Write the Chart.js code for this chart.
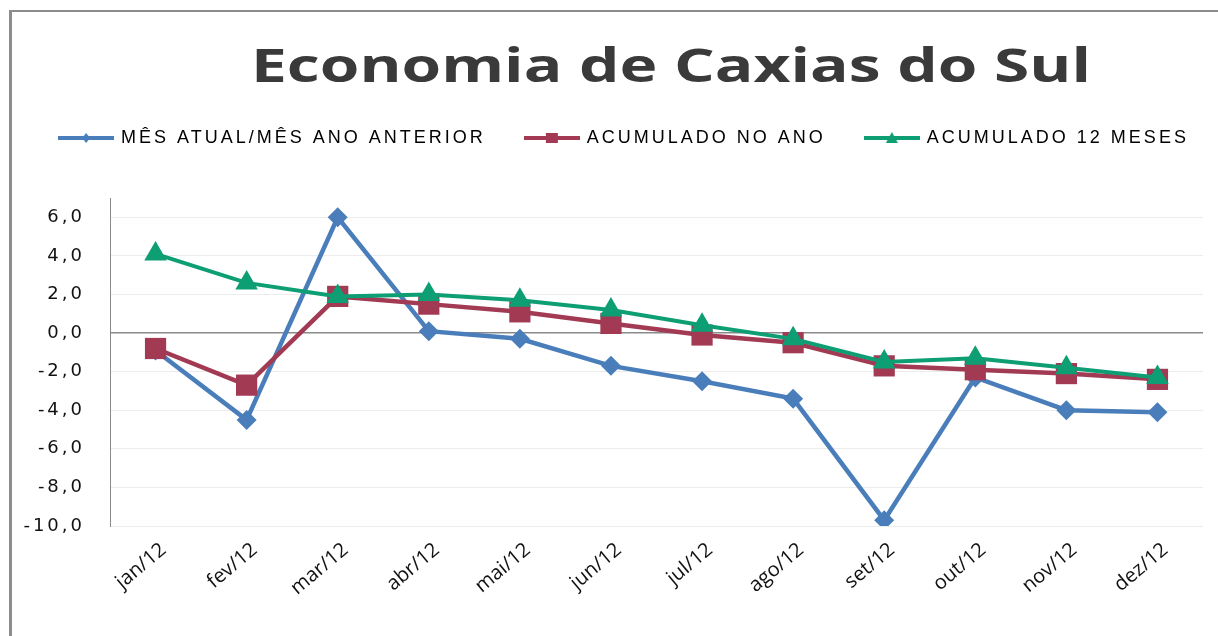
<!DOCTYPE html>
<html>
<head>
<meta charset="utf-8">
<script src="https://cdn.jsdelivr.net/npm/chart.js@4.4.1/dist/chart.umd.min.js"></script>
<style>
  html, body { margin:0; padding:0; background:#fff; }
  #wrap { position:relative; width:1218px; height:636px; overflow:hidden; }
  #frame { position:absolute; left:9px; top:10px; width:1240px; height:660px;
           border-left:3px solid #8c8c8c; border-top:2px solid #8c8c8c; }
  canvas { position:absolute; left:0; top:0; }
</style>
</head>
<body>
<div id="wrap">
  <div id="frame"></div>
  <canvas id="chart" width="1218" height="636"></canvas>
</div>
<script>
const titleText = "Economia de Caxias do Sul";
const months = ["jan/12","fev/12","mar/12","abr/12","mai/12","jun/12","jul/12","ago/12","set/12","out/12","nov/12","dez/12"];
const mesAtual = [-0.9, -4.5, 6.0, 0.1, -0.3, -1.7, -2.5, -3.4, -9.7, -2.3, -4.0, -4.1];
const acumAno  = [-0.8, -2.7, 1.9, 1.5, 1.1, 0.5, -0.1, -0.5, -1.7, -1.9, -2.1, -2.4];
const acum12   = [4.1, 2.6, 1.9, 2.0, 1.7, 1.2, 0.4, -0.3, -1.5, -1.3, -1.8, -2.3];
const yTicks   = [-10, -8, -6, -4, -2, 0, 2, 4, 6];

const BLUE = "#4a7ebb", RED = "#a23a54", GREEN = "#0e9e73";

// small line+marker picture for the legend, like excel does
function legendIcon(color, style){
  const c = document.createElement("canvas");
  c.width = 56; c.height = 16;
  const x = c.getContext("2d");
  x.strokeStyle = color; x.fillStyle = color; x.lineWidth = 4;
  x.beginPath(); x.moveTo(0, 8); x.lineTo(56, 8); x.stroke();
  x.beginPath();
  if(style === "diamond"){
    x.moveTo(28, 3); x.lineTo(32, 8); x.lineTo(28, 13); x.lineTo(24, 8);
  } else if(style === "square"){
    x.rect(22, 3, 12, 10);
  } else {
    x.moveTo(28, 2); x.lineTo(34, 13); x.lineTo(22, 13);
  }
  x.closePath(); x.fill();
  return c;
}
const icons = [legendIcon(BLUE, "diamond"), legendIcon(RED, "square"), legendIcon(GREEN, "triangle")];

// wrap a method so its text gets some letter spacing (the original is stretched wide)
function spaced(obj, name, sp){
  const orig = obj[name];
  obj[name] = function(...a){
    const c = this.ctx, prev = c.letterSpacing;
    c.letterSpacing = sp;
    try { return orig.apply(this, a); } finally { c.letterSpacing = prev; }
  };
}

const tweaks = {
  id: "tweaks",
  beforeLayout(chart){
    const lg = chart.legend;
    if(!lg || lg._tweaked) return;
    lg._tweaked = true;
    spaced(lg, "fit", "3px");
    spaced(lg, "draw", "3px");
    const fit = lg.fit, draw = lg.draw;
    // keep the three items on one row, and leave room under it
    lg.fit = function(){
      this.maxWidth += 80;
      fit.call(this);
      this.maxWidth -= 80;
      this.width = this.maxWidth;
      this.height += 41;
    };
    lg.draw = function(){
      const c = this.ctx, l = this.left, r = this.right;
      this.left = l - 40; this.right = r + 40;
      c.save(); c.translate(12, 0);
      try { draw.call(this); } finally { c.restore(); this.left = l; this.right = r; }
    };
  },
  afterDraw(chart){
    const ctx = chart.ctx;
    ctx.save();
    ctx.font = 'bold 47px "Open Sans"';
    ctx.fillStyle = "#3a3a3a";
    ctx.textBaseline = "alphabetic";
    const w = ctx.measureText(titleText).width;
    ctx.translate(671, 82);
    ctx.scale(840 / w, 1);
    ctx.textAlign = "center";
    ctx.fillText(titleText, 0, 0);
    ctx.restore();
  }
};

new Chart(document.getElementById("chart"), {
  type: "line",
  data: {
    labels: months,
    datasets: [
      { label: "MÊS ATUAL/MÊS ANO ANTERIOR", data: mesAtual, borderColor: BLUE, backgroundColor: BLUE,
        borderWidth: 4.5, pointStyle: "rectRot", pointRadius: 10, pointBorderWidth: 0, order: 3 },
      { label: "ACUMULADO NO ANO", data: acumAno, borderColor: RED, backgroundColor: RED,
        borderWidth: 4.5, pointStyle: "rect", pointRadius: 15, pointBorderWidth: 0, order: 2 },
      { label: "ACUMULADO 12 MESES", data: acum12, borderColor: GREEN, backgroundColor: GREEN,
        borderWidth: 4, pointStyle: "triangle", pointRadius: 13, pointBorderWidth: 0, order: 1 }
    ]
  },
  options: {
    responsive: false,
    animation: false,
    layout: { padding: { left: 20, right: 13, top: 89, bottom: 0 } },
    plugins: {
      title: { display: false },
      tooltip: { enabled: false },
      legend: {
        position: "top",
        labels: {
          usePointStyle: true,
          pointStyleWidth: 52,
          padding: 40,
          color: "#000",
          font: { family: '"Liberation Sans", Arial', size: 18 },
          generateLabels(chart){
            return chart.data.datasets.map((ds, i) => ({
              text: ds.label, pointStyle: icons[i], fillStyle: ds.borderColor,
              strokeStyle: ds.borderColor, lineWidth: 0, hidden: false, datasetIndex: i
            }));
          }
        }
      }
    },
    scales: {
      x: {
        offset: true,
        grid: { display: false, offset: true },
        border: { display: false },
        ticks: { color: "#111", font: { family: '"Open Sans"', size: 20 }, maxRotation: 40, minRotation: 40,
                 padding: 4, labelOffset: 8 },
        afterFit(scale){ scale.height = 110; }
      },
      y: {
        min: -10, max: 7,
        afterBuildTicks(scale){ scale.ticks = yTicks.map(v => ({ value: v })); },
        afterFit(scale){
          scale.width = 90;
          if(!scale._tweaked){ scale._tweaked = true; spaced(scale, "drawLabels", "3px"); }
        },
        border: { color: "#8a8a8a", width: 1 },
        grid: {
          drawTicks: false,
          color: ctx => ctx.tick && ctx.tick.value === 0 ? "#8a8a8a" : "#ececec",
          lineWidth: ctx => ctx.tick && ctx.tick.value === 0 ? 1.5 : 1
        },
        ticks: {
          color: "#111", padding: 25,
          font: { family: '"DejaVu Sans"', size: 18 },
          callback: v => v.toFixed(1).replace(".", ",")
        }
      }
    }
  },
  plugins: [tweaks]
});
</script>
</body>
</html>
